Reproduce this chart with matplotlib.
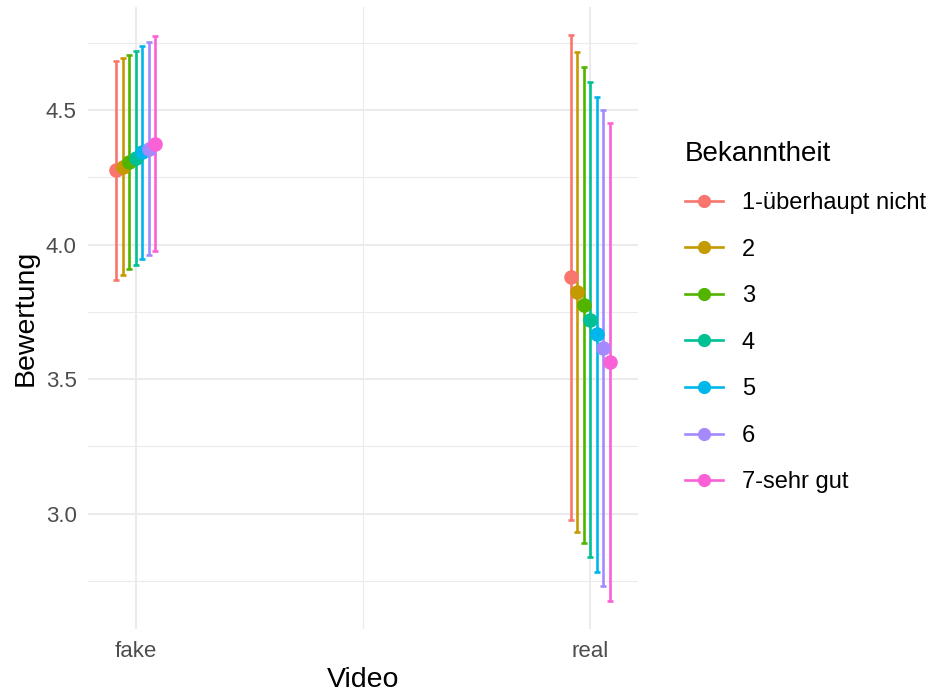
import numpy as np
import matplotlib.pyplot as plt
from matplotlib.lines import Line2D
from matplotlib.ticker import MultipleLocator

plt.rcParams['font.family'] = ['Liberation Sans', 'DejaVu Sans']

# Mittelwerte und Fehlerbalken je Video und Bekanntheitsstufe
videos = ['fake', 'real']
levels = ['1-überhaupt nicht', '2', '3', '4', '5', '6', '7-sehr gut']
colors = ['#F8766D', '#C49A00', '#53B400', '#00C094', '#00B6EB', '#A58AFF', '#FB61D7']

mean_fake = [4.276, 4.290, 4.308, 4.323, 4.343, 4.357, 4.376]
lower_fake = [3.868, 3.887, 3.908, 3.926, 3.945, 3.960, 3.976]
upper_fake = [4.683, 4.693, 4.707, 4.720, 4.740, 4.754, 4.775]

mean_real = [3.878, 3.825, 3.774, 3.720, 3.667, 3.615, 3.565]
lower_real = [2.978, 2.932, 2.889, 2.839, 2.784, 2.730, 2.676]
upper_real = [4.779, 4.717, 4.659, 4.604, 4.549, 4.500, 4.454]

means = np.array([mean_fake, mean_real])
lowers = np.array([lower_fake, lower_real])
uppers = np.array([upper_fake, upper_real])

dodge = 0.1
n = len(levels)
offsets = (np.arange(n) - (n - 1) / 2) * dodge / n
xpos = np.arange(1, len(videos) + 1)

fig = plt.figure(figsize=(9.36, 6.97), dpi=100)
ax = fig.add_axes([0.094, 0.0976, 0.5876, 0.8924])

for i, (lev, col) in enumerate(zip(levels, colors)):
    x = xpos + offsets[i]
    m = means[:, i]
    ax.errorbar(x, m, yerr=[m - lowers[:, i], uppers[:, i] - m], fmt='none',
                ecolor=col, elinewidth=1.9, capsize=2.2, capthick=1.9, zorder=2)
for i, (lev, col) in enumerate(zip(levels, colors)):
    ax.plot(xpos + offsets[i], means[:, i], 'o', color=col, markersize=10.5,
            markeredgewidth=0, zorder=3 + i)

ax.set_xlim(0.895, 2.105)
ax.set_ylim(2.571, 4.884)
ax.set_xticks(xpos)
ax.set_xticklabels(videos)
ax.set_xticks([1.5], minor=True)
ax.yaxis.set_major_locator(MultipleLocator(0.5))
ax.yaxis.set_minor_locator(MultipleLocator(0.25))
ax.set_yticks([3.0, 3.5, 4.0, 4.5])
ax.set_yticklabels(['3.0', '3.5', '4.0', '4.5'])

ax.grid(which='major', color='#EBEBEB', linewidth=1.5)
ax.grid(which='minor', color='#EBEBEB', linewidth=0.8)
ax.set_axisbelow(True)
for s in ax.spines.values():
    s.set_visible(False)
ax.tick_params(which='both', length=0, labelsize=16, labelcolor='#4D4D4D')
ax.tick_params(axis='x', pad=9)
ax.tick_params(axis='y', pad=8)

ax.set_xlabel('Video', fontsize=20.5, labelpad=3)
ax.set_ylabel('Bewertung', fontsize=20.5, labelpad=5)

handles = [Line2D([0], [0], color=c, lw=1.9, marker='o', markersize=9.5,
                  markeredgewidth=0) for c in colors]
leg = fig.legend(handles, levels, loc='upper left', bbox_to_anchor=(0.7318, 0.797),
                 frameon=False, fontsize=17, title='Bekanntheit', title_fontsize=20,
                 handlelength=1.6, labelspacing=1.04, handletextpad=0.8,
                 borderpad=0, borderaxespad=0)
leg._legend_box.align = 'left'

fig.savefig('out.png', dpi=100)
